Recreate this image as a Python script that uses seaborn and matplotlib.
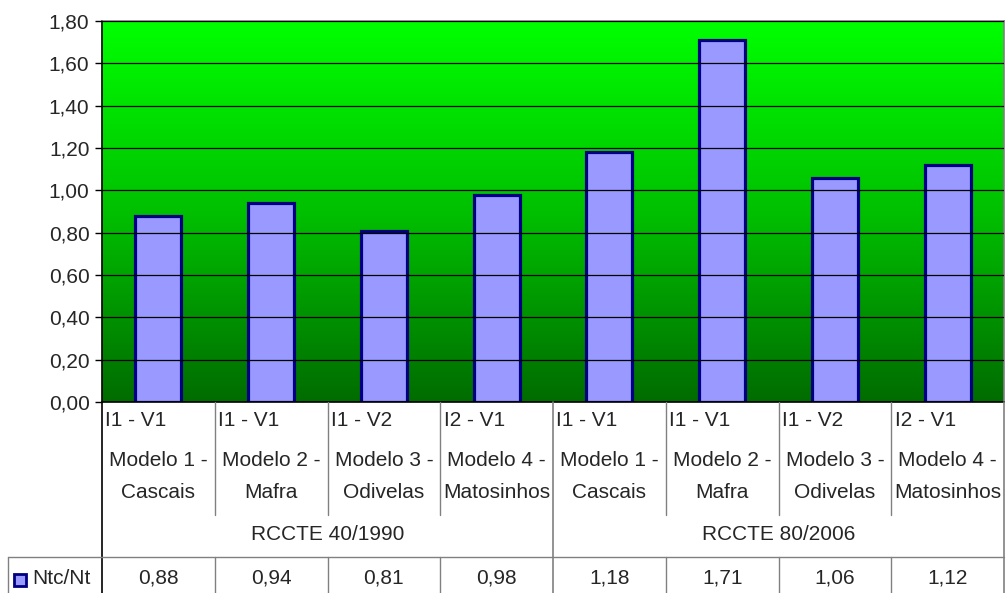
import matplotlib
matplotlib.use('Agg')
import matplotlib.pyplot as plt
import matplotlib.transforms as mtransforms
from matplotlib.lines import Line2D
from matplotlib.patches import Rectangle
from matplotlib.colors import LinearSegmentedColormap
import numpy as np
import pandas as pd
import seaborn as sns

# dados do grafico
regulamentos = ['RCCTE 40/1990', 'RCCTE 80/2006']
inercia = ['I1 - V1', 'I1 - V1', 'I1 - V2', 'I2 - V1']
modelos = ['Modelo 1 -\nCascais', 'Modelo 2 -\nMafra', 'Modelo 3 -\nOdivelas', 'Modelo 4 -\nMatosinhos']
ntc_nt = [0.88, 0.94, 0.81, 0.98, 1.18, 1.71, 1.06, 1.12]
serie = 'Ntc/Nt'

W, H = 1007, 593
df = pd.DataFrame({
    'reg': [r for r in regulamentos for _ in modelos],
    'iv': inercia * len(regulamentos),
    'modelo': modelos * len(regulamentos),
    'valor': ntc_nt,
})
df['cat'] = df['reg'] + ' | ' + df['modelo']

sns.set_style('white')
plt.rcParams['font.family'] = ['Liberation Sans', 'DejaVu Sans']
fs = 15

fig = plt.figure(figsize=(W / 100, H / 100), dpi=100)
ax = fig.add_axes([102 / W, 1 - 402 / H, (1004 - 102) / W, (402 - 21) / H])

# fundo em degrade verde
cmap = LinearSegmentedColormap.from_list('verde', [(0, '#006c00'), (0.5, '#00c000'), (1, '#00ff00')])
grad = np.linspace(0, 1, 256).reshape(-1, 1)
ax.imshow(grad, extent=[0, 1, 0, 1], transform=ax.transAxes, aspect='auto',
          cmap=cmap, origin='lower', zorder=0)

sns.barplot(data=df, x='cat', y='valor', ax=ax, color='#9999ff', width=0.41,
            edgecolor='#000080', linewidth=2.3, saturation=1, zorder=2)

n = len(df)
ax.set_xlim(-0.5, n - 0.5)
ax.set_ylim(0, 1.8)
ax.set_yticks(np.arange(0, 1.81, 0.2))
ax.set_yticklabels([f'{v:.2f}'.replace('.', ',') for v in np.arange(0, 1.81, 0.2)], fontsize=fs)
ax.set_xticks([])
ax.set_xlabel('')
ax.set_ylabel('')
ax.yaxis.grid(True, color='black', lw=0.9, zorder=1)
ax.set_axisbelow(False)
for g in ax.get_ygridlines():
    g.set_zorder(1)
ax.tick_params(axis='y', left=True, length=5, width=1, color='black', pad=4)
ax.spines['left'].set_color('black')
ax.spines['bottom'].set_color('black')
ax.spines['top'].set_color('#808080')
ax.spines['right'].set_color('#808080')
for s in ax.spines.values():
    s.set_linewidth(1.2)

# tabela por baixo do eixo
trans = mtransforms.blended_transform_factory(ax.transData, fig.transFigure)
fy = lambda py: 1 - py / H

for i in range(n + 1):
    x = i - 0.5
    if i in (0, n // 2, n):
        col = 'black' if i == 0 else '#808080'
        fig.add_artist(Line2D([x, x], [fy(402), fy(H)], transform=trans, color=col, lw=1.2))
    else:
        fig.add_artist(Line2D([x, x], [fy(402), fy(515)], transform=trans, color='#808080', lw=1))
        fig.add_artist(Line2D([x, x], [fy(557), fy(H)], transform=trans, color='#808080', lw=1))
fig.add_artist(Line2D([8 / W, 1004 / W], [fy(557), fy(557)], transform=fig.transFigure, color='#808080', lw=1))
fig.add_artist(Line2D([8 / W, 8 / W], [fy(557), fy(H)], transform=fig.transFigure, color='#808080', lw=1))

for i, row in df.iterrows():
    fig.text(i - 0.47, fy(421), row['iv'], transform=trans, ha='left', va='center', fontsize=fs)
    l1, l2 = row['modelo'].split('\n')
    fig.text(i, fy(460), l1, transform=trans, ha='center', va='center', fontsize=fs)
    fig.text(i, fy(492), l2, transform=trans, ha='center', va='center', fontsize=fs)
    fig.text(i, fy(578), f'{row["valor"]:.2f}'.replace('.', ','), transform=trans,
             ha='center', va='center', fontsize=fs)

k = len(modelos)
for j, reg in enumerate(regulamentos):
    fig.text(j * k + (k - 1) / 2, fy(535), reg, transform=trans, ha='center', va='center', fontsize=fs)

# chave da legenda
fig.add_artist(Rectangle((14 / W, fy(586)), 12 / W, 12 / H, transform=fig.transFigure,
                         facecolor='#9999ff', edgecolor='#000080', lw=2))
fig.text(32 / W, fy(579), serie, ha='left', va='center', fontsize=fs)

fig.savefig('out.png', dpi=100)
